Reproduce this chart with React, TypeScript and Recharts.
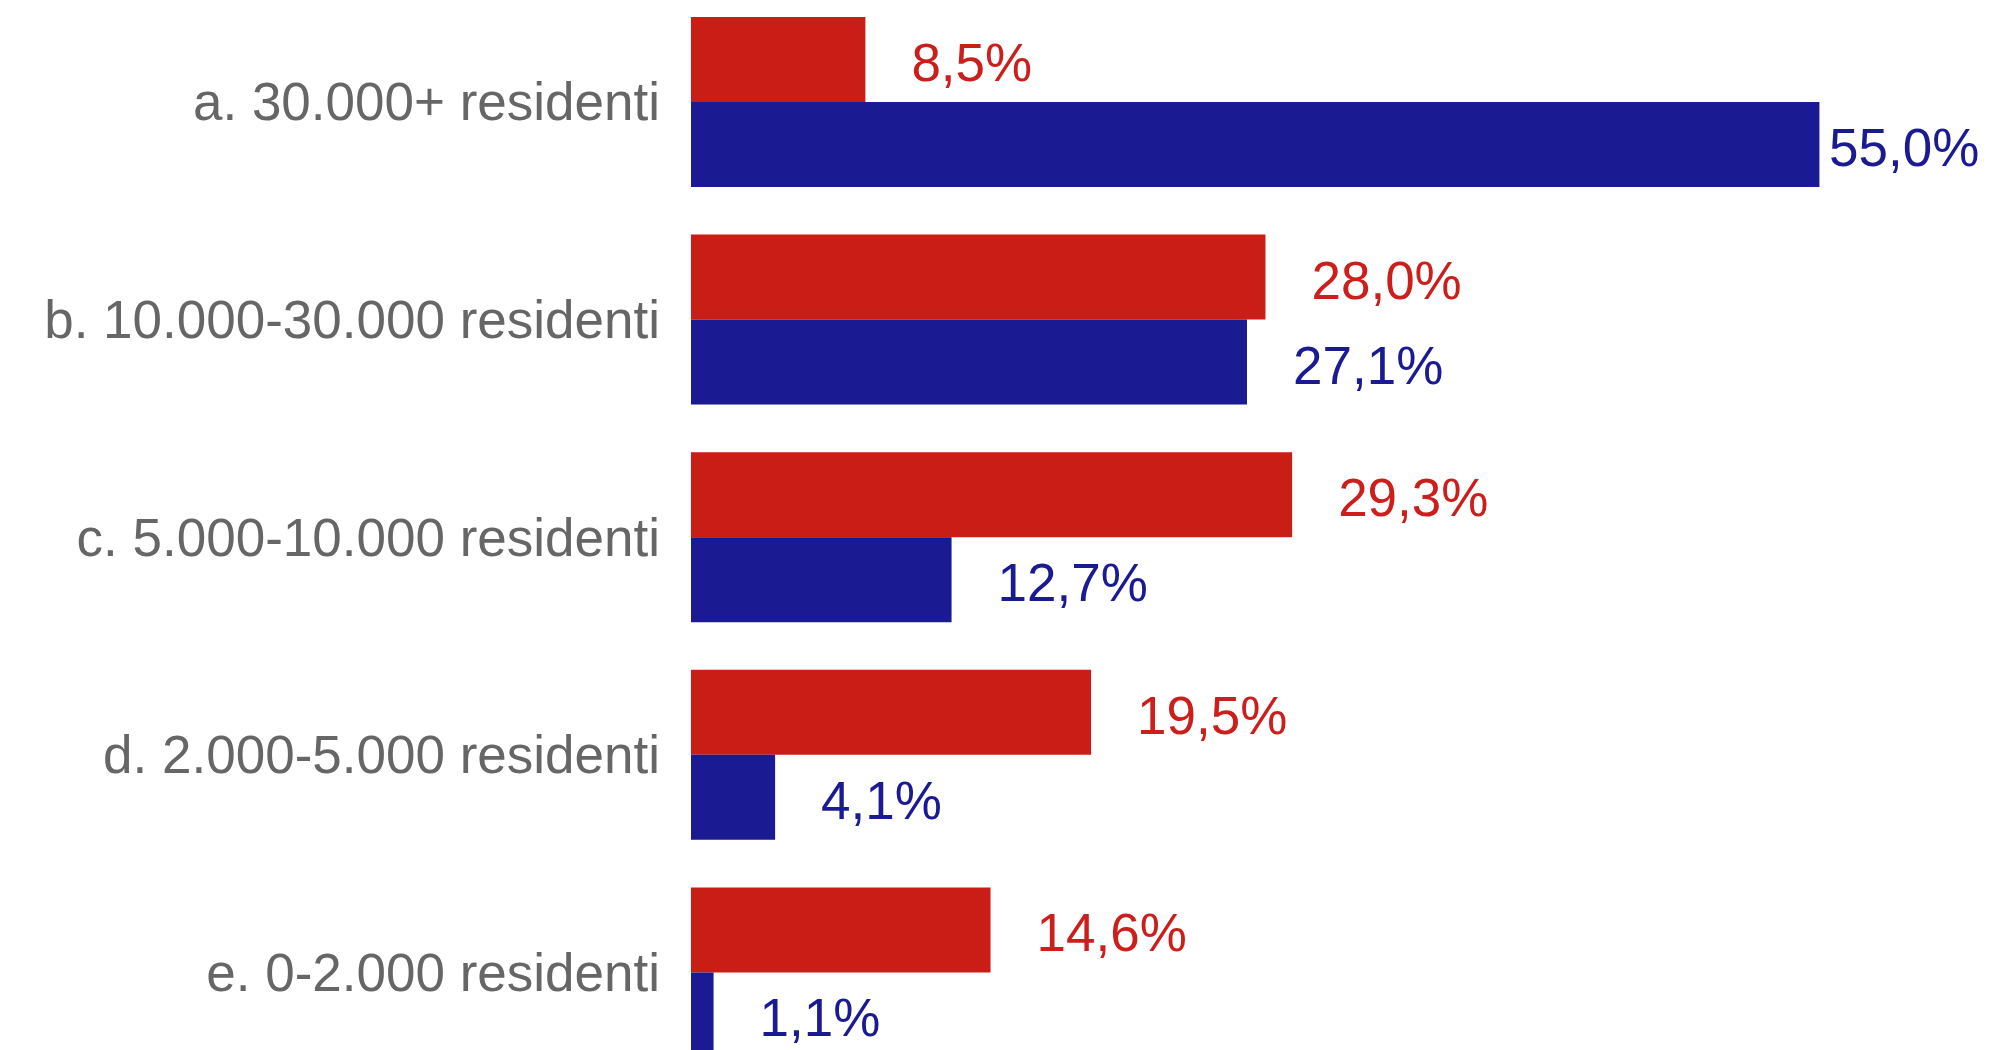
import React from "react";
import { BarChart, Bar, XAxis, YAxis, LabelList } from "recharts";

const categories = [
  "a. 30.000+ residenti",
  "b. 10.000-30.000 residenti",
  "c. 5.000-10.000 residenti",
  "d. 2.000-5.000 residenti",
  "e. 0-2.000 residenti",
];
const redValues = [8.5, 28.0, 29.3, 19.5, 14.6];
const blueValues = [55.0, 27.1, 12.7, 4.1, 1.1];

const data = categories.map((c, i) => ({ cat: c, red: redValues[i], blue: blueValues[i] }));

const W = 1999;
const H = 1088;
const FONT = "'Liberation Sans', Arial, sans-serif";
const RED = "#C91D16";
const BLUE = "#1A1A93";

const fmt = (v: number) => v.toFixed(1).replace(".", ",") + "%";

const makeLabel = (color: string) => (props: any) => {
  const { x, y, width, height, value } = props;
  const lx = Math.min(Number(x) + Number(width) + 46, W - 170);
  return (
    <text
      x={lx}
      y={Number(y) + Number(height) / 2 + 3}
      fill={color}
      fontFamily={FONT}
      fontSize={53}
      dominantBaseline="central"
      textAnchor="start"
    >
      {fmt(Number(value))}
    </text>
  );
};

const CatTick = (props: any) => {
  const { x, y, payload } = props;
  return (
    <text
      x={Number(x) - 31}
      y={y}
      fill="#666666"
      fontFamily={FONT}
      fontSize={53}
      textAnchor="end"
      dominantBaseline="central"
    >
      {payload.value}
    </text>
  );
};

export default function App() {
  return (
    <div
      style={{
        position: "fixed",
        left: 0,
        top: 0,
        width: W,
        height: 1050,
        overflow: "hidden",
        background: "#ffffff",
      }}
    >
      <div style={{ position: "absolute", left: 0, top: -7 }}>
        <BarChart
          width={W}
          height={H}
          data={data}
          layout="vertical"
          margin={{ top: 0, right: 77, bottom: 0, left: 0 }}
          barCategoryGap={24}
          barGap={0}
        >
          <XAxis type="number" domain={[0, 60]} hide />
          <YAxis
            type="category"
            dataKey="cat"
            width={691}
            axisLine={false}
            tickLine={false}
            tickSize={0}
            tickMargin={0}
            tick={<CatTick />}
            interval={0}
          />
          <Bar dataKey="red" fill={RED} isAnimationActive={false}>
            <LabelList dataKey="red" content={makeLabel("#CC1F1C")} />
          </Bar>
          <Bar dataKey="blue" fill={BLUE} isAnimationActive={false}>
            <LabelList dataKey="blue" content={makeLabel(BLUE)} />
          </Bar>
        </BarChart>
      </div>
    </div>
  );
}
